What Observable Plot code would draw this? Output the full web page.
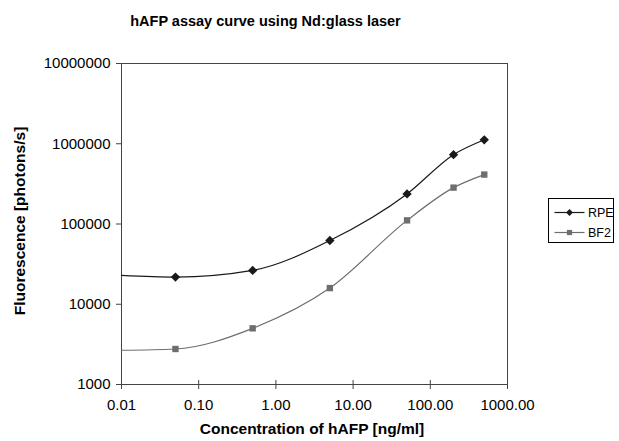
<!DOCTYPE html>
<html>
<head>
<meta charset="utf-8">
<script src="https://cdn.jsdelivr.net/npm/d3@7"></script>
<script src="https://cdn.jsdelivr.net/npm/@observablehq/plot@0.6"></script>
<style>
  html, body { margin: 0; padding: 0; background: #fff; }
  #wrap { position: relative; width: 619px; height: 441px; font-family: "Liberation Sans", Arial, sans-serif; color: #000; }
  #wrap > svg { position: absolute; left: 0; top: 0; }
  .title { position: absolute; left: 0; width: 531px; top: 13.5px; line-height: 1; text-align: center; font-weight: bold; font-size: 14.5px; white-space: nowrap; }
  .xlab { position: absolute; left: 212px; width: 200px; top: 421px; line-height: 1; text-align: center; font-weight: bold; font-size: 15.5px; white-space: nowrap; display: flex; justify-content: center; }
  .ylab { position: absolute; left: 19.5px; top: 221px; line-height: 1; transform: translate(-50%, -50%) rotate(-90deg); white-space: nowrap; font-weight: bold; font-size: 15.5px; }
  .legend { position: absolute; left: 548px; top: 198px; width: 66px; height: 45px; border: 1px solid #000; box-sizing: border-box; }
  .legend svg { display: block; }
</style>
</head>
<body>
<div id="wrap"></div>
<script>
// Data
const concentration = [0.05, 0.5, 5, 50, 200, 500];
const rpe = [21800, 26400, 62300, 237000, 731000, 1120000];
const bf2 = [2770, 5010, 15900, 111000, 284000, 413000];
// line starts at the left edge of the axis (unmarked point)
const startConc = 0.01;
const rpeStart = 22900;
const bf2Start = 2670;

const xTicks = [0.01, 0.1, 1, 10, 100, 1000];
const yTicks = [1000, 10000, 100000, 1000000, 10000000];

const seriesNames = ["RPE", "BF2"];
const seriesColors = ["#1a1a1a", "#6e6e6e"];

const rpePts = concentration.map((c, i) => ({x: c, y: rpe[i]}));
const bf2Pts = concentration.map((c, i) => ({x: c, y: bf2[i]}));
const rpeLine = [{x: startConc, y: rpeStart}, ...rpePts];
const bf2Line = [{x: startConc, y: bf2Start}, ...bf2Pts];

const chart = Plot.plot({
  width: 619,
  height: 441,
  marginLeft: 121,
  marginRight: 112,
  marginTop: 63,
  marginBottom: 57,
  style: {fontFamily: "'Liberation Sans', Arial, sans-serif", fontSize: "15px", color: "#000", background: "#fff"},
  x: {type: "log", domain: [0.01, 1000]},
  y: {type: "log", domain: [1000, 10000000]},
  marks: [
    Plot.frame({stroke: "#444", strokeWidth: 1}),
    Plot.axisX({ticks: xTicks, tickFormat: d3.format(".2f"), tickSize: 5, tickPadding: 10, label: null, stroke: "#444", fontSize: 15}),
    Plot.axisX({ticks: xTicks, tickFormat: () => "", tickSize: -4, label: null, stroke: "#444"}),
    Plot.axisY({ticks: yTicks, tickFormat: d => String(d), tickSize: 5, tickPadding: 6, label: null, stroke: "#444", fontSize: 15}),
    Plot.line(bf2Line, {x: "x", y: "y", stroke: seriesColors[1], strokeWidth: 1.2, curve: "monotone-x"}),
    Plot.line(rpeLine, {x: "x", y: "y", stroke: seriesColors[0], strokeWidth: 1.2, curve: "monotone-x"}),
    Plot.dot(bf2Pts, {x: "x", y: "y", symbol: "square", r: 3.6, fill: seriesColors[1], stroke: null}),
    Plot.dot(rpePts, {x: "x", y: "y", symbol: "diamond2", r: 4.2, fill: seriesColors[0], stroke: null})
  ]
});

const wrap = document.getElementById("wrap");
wrap.appendChild(chart);

const title = document.createElement("div");
title.className = "title";
title.textContent = "hAFP assay curve using Nd:glass laser";
wrap.appendChild(title);

const xlab = document.createElement("div");
xlab.className = "xlab";
xlab.textContent = "Concentration of hAFP [ng/ml]";
wrap.appendChild(xlab);

const ylab = document.createElement("div");
ylab.className = "ylab";
ylab.textContent = "Fluorescence [photons/s]";
wrap.appendChild(ylab);

// Legend built with Plot too
const legend = document.createElement("div");
legend.className = "legend";
const legData = seriesNames.map((n, i) => ({name: n, row: i, color: seriesColors[i], symbol: i === 0 ? "diamond2" : "square"}));
const legPlot = Plot.plot({
  width: 64, height: 43, margin: 0,
  x: {domain: [0, 64]}, y: {domain: [0, 43], reverse: true},
  axis: null,
  style: {fontFamily: "'Liberation Sans', Arial, sans-serif", fontSize: "12.5px", background: "transparent"},
  marks: [
    Plot.link(legData, {x1: 5, x2: 35, y1: d => 13 + d.row * 20, y2: d => 13 + d.row * 20, stroke: "color", strokeWidth: 1.2}),
    Plot.dot(legData, {x: 20, y: d => 13 + d.row * 20, symbol: "symbol", r: d => d.row === 0 ? 4.2 : 3.6, fill: "color", stroke: null}),
    Plot.text(legData, {x: 38.5, y: d => 13 + d.row * 20, text: "name", textAnchor: "start", fill: "#000", fontSize: 12.5})
  ]
});
legend.appendChild(legPlot);
wrap.appendChild(legend);
</script>
</body>
</html>
